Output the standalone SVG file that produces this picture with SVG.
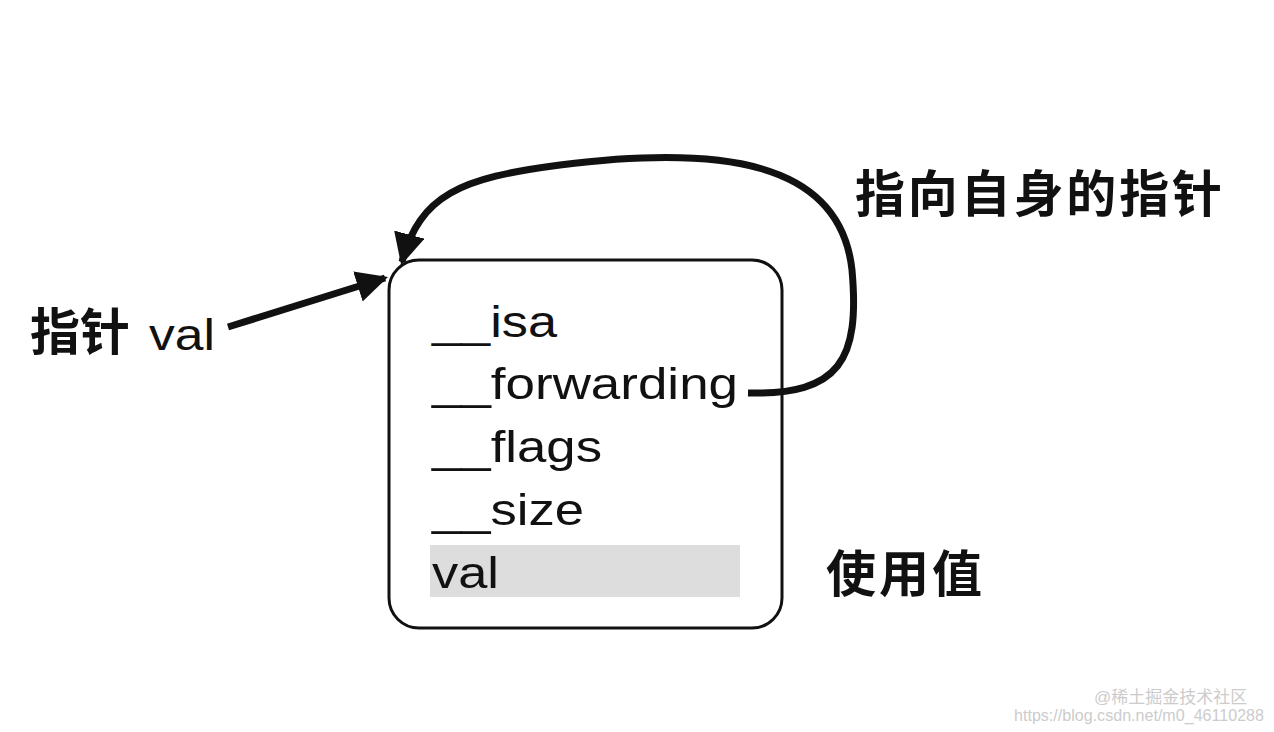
<svg xmlns="http://www.w3.org/2000/svg" width="1274" height="732" viewBox="0 0 1274 732">
<style>
.t{font-family:"Liberation Sans","Noto Sans CJK SC",sans-serif;font-size:44px;fill:#111}
.c{font-family:"Noto Sans CJK SC",sans-serif;font-size:50px;fill:#111;font-weight:bold}
.w{font-family:"Liberation Sans","Noto Sans CJK SC",sans-serif;font-size:17px;fill:#ccc}
</style>
<defs><marker id="a" viewBox="0 0 10 10" refX="9" refY="5" markerWidth="4.5" markerHeight="4.5" orient="auto"><path d="M0,0L10,5L0,10z" fill="#111"/></marker></defs>
<rect width="1274" height="732" fill="#fff"/>
<g id="box">
<rect x="389" y="260" width="393" height="368" rx="30" fill="none" stroke="#111" stroke-width="3"/>
<rect x="430" y="545" width="310" height="52" fill="#ddd"/>
<text class="t" x="432" y="337" textLength="125" lengthAdjust="spacingAndGlyphs">__isa</text>
<text class="t" x="432" y="399" textLength="306" lengthAdjust="spacingAndGlyphs">__forwarding</text>
<text class="t" x="432" y="462" textLength="170" lengthAdjust="spacingAndGlyphs">__flags</text>
<text class="t" x="432" y="525" textLength="152" lengthAdjust="spacingAndGlyphs">__size</text>
<text class="t" x="432" y="588" textLength="67" lengthAdjust="spacingAndGlyphs">val</text>
</g>
<g id="labels">
<text class="c" x="855" y="212" textLength="367">指向自身的指针</text>
<text class="c" x="30" y="350">指针</text>
<text class="t" x="149" y="350" textLength="66" lengthAdjust="spacingAndGlyphs">val</text>
<text class="c" x="826" y="592" textLength="156">使用值</text>
<text class="w" x="1094" y="703">@稀土掘金技术社区</text>
<text class="w" x="1014" y="721" textLength="250" lengthAdjust="spacingAndGlyphs">https://blog.csdn.net/m0_46110288</text>
</g>
<g id="connectors" fill="none" stroke="#111" stroke-width="7">
<path d="M228,327 L385,278" marker-end="url(#a)"/>
<path d="M748,393 C840,395 860,360 852,270 C840,160 720,145 560,165 C460,178 420,195 402,262" marker-end="url(#a)"/>
</g>
</svg>
